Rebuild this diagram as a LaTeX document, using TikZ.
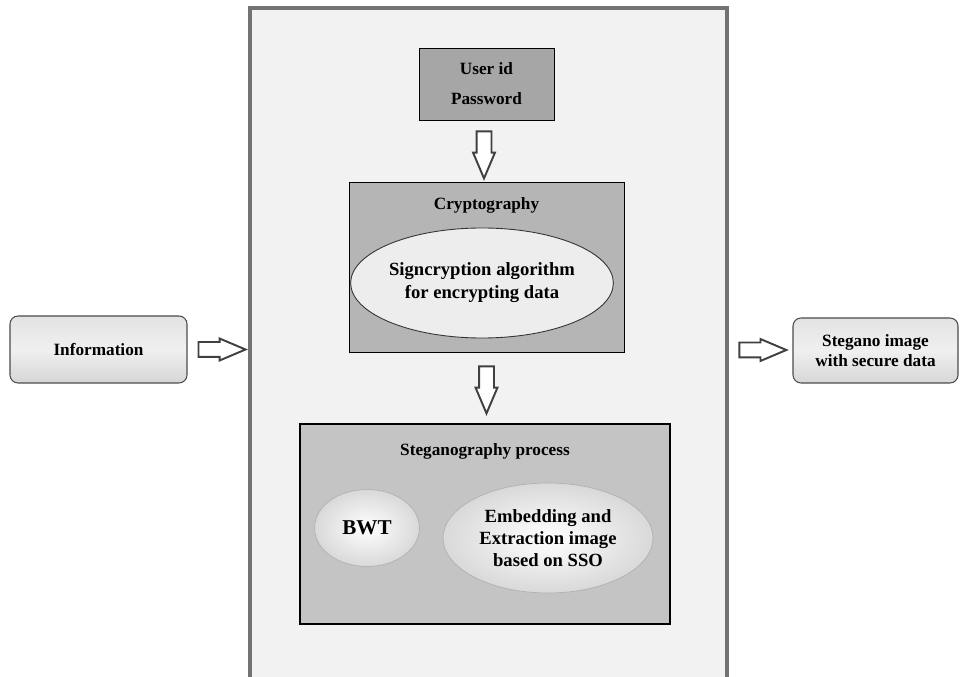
\documentclass[tikz,border=0pt]{standalone}
\usepackage{fontspec}
\setmainfont{Liberation Serif}
\newfontfamily\diagfont{Liberation Serif}
\usepackage{tikz}
\usetikzlibrary{calc,positioning,shapes.geometric,shapes.arrows}
\tikzset{
  txt/.style={font=\diagfont\bfseries\fontsize{9.8}{12}\selectfont,align=center},
  panel/.style={fill=gray!10,minimum width=95.4mm,minimum height=133.8mm,inner sep=0pt},
  panelline/.style={draw=gray!110,line width=0.8mm},
  stepbox/.style={txt,draw=black,line width=0.5pt,inner sep=0pt},
  oval/.style={txt,ellipse,inner sep=0pt},
  endbox/.style={txt,draw=gray!140,line width=0.6pt,rounded corners=1.6mm,
                 top color=gray!22,bottom color=gray!32,middle color=gray!12,inner sep=0pt},
  blockarr/.style={single arrow,draw=black!75,fill=white,line width=1.1pt,inner sep=1.3mm,
                   minimum height=9.4mm,single arrow head extend=0.7mm,single arrow tip angle=46,
                   anchor=tail},
}
\begin{document}
\begin{tikzpicture}[x=0.2mm,y=-0.2mm]
  \useasboundingbox (0,0) rectangle (960,677);
  \node[panel] (frame) at (488.5,342.5) {};
  \draw[panelline] (frame.south west) |- (frame.north east) -- (frame.south east);

  \node[endbox,minimum width=35.4mm,minimum height=13.4mm] (info) at (98.5,349.5) {Information};
  \node[endbox,minimum width=33mm,minimum height=13mm,font=\diagfont\bfseries\fontsize{9.8}{11.5}\selectfont]
       (out) at (875.5,350.5) {Stegano image\\with secure data};

  \node[stepbox,fill=gray!70,minimum width=27mm,minimum height=14.4mm,
        font=\diagfont\bfseries\fontsize{9.8}{17}\selectfont] (user) at (486.5,84) {User id\\Password};

  \node[stepbox,fill=gray!58,minimum width=55mm,minimum height=34mm] (crypto) at (486.5,267) {};
  \node[txt] (cryptotitle) at (486.5,205) {Cryptography};
  \node[oval,draw=black!80,line width=0.5pt,fill=gray!14,minimum width=41.8mm,minimum height=22mm,
        font=\diagfont\bfseries\fontsize{10.6}{13}\selectfont] (sign) at (482,283) {Signcryption algorithm\\for encrypting data};

  \node[stepbox,fill=gray!46,line width=0.9pt,minimum width=74mm,minimum height=40mm] (steg) at (485,524) {};
  \node[txt] (stegtitle) at (485,451) {Steganography process};
  \node[oval,draw=gray!60,inner color=white,outer color=gray!30,minimum width=21mm,minimum height=15.4mm,
        font=\diagfont\bfseries\fontsize{12}{14}\selectfont] (bwt) at (367,528) {BWT};
  \node[oval,draw=gray!60,inner color=white,outer color=gray!30,minimum width=42mm,minimum height=22mm,
        font=\diagfont\bfseries\fontsize{10.6}{12.5}\selectfont] (embed) at (548,538) {Embedding and\\Extraction image\\based on SSO};

  \node[blockarr] (a1) at ([xshift=2mm]info.east) {};
  \node[blockarr,rotate=-90] (a2) at ([xshift=-0.5mm,yshift=-2mm]user.south) {};
  \node[blockarr,rotate=-90] (a3) at ([yshift=-2.6mm]crypto.south) {};
  \node[blockarr] (a4) at ([xshift=2.2mm,yshift=-1.5mm]frame.east) {};
\end{tikzpicture}
\end{document}
